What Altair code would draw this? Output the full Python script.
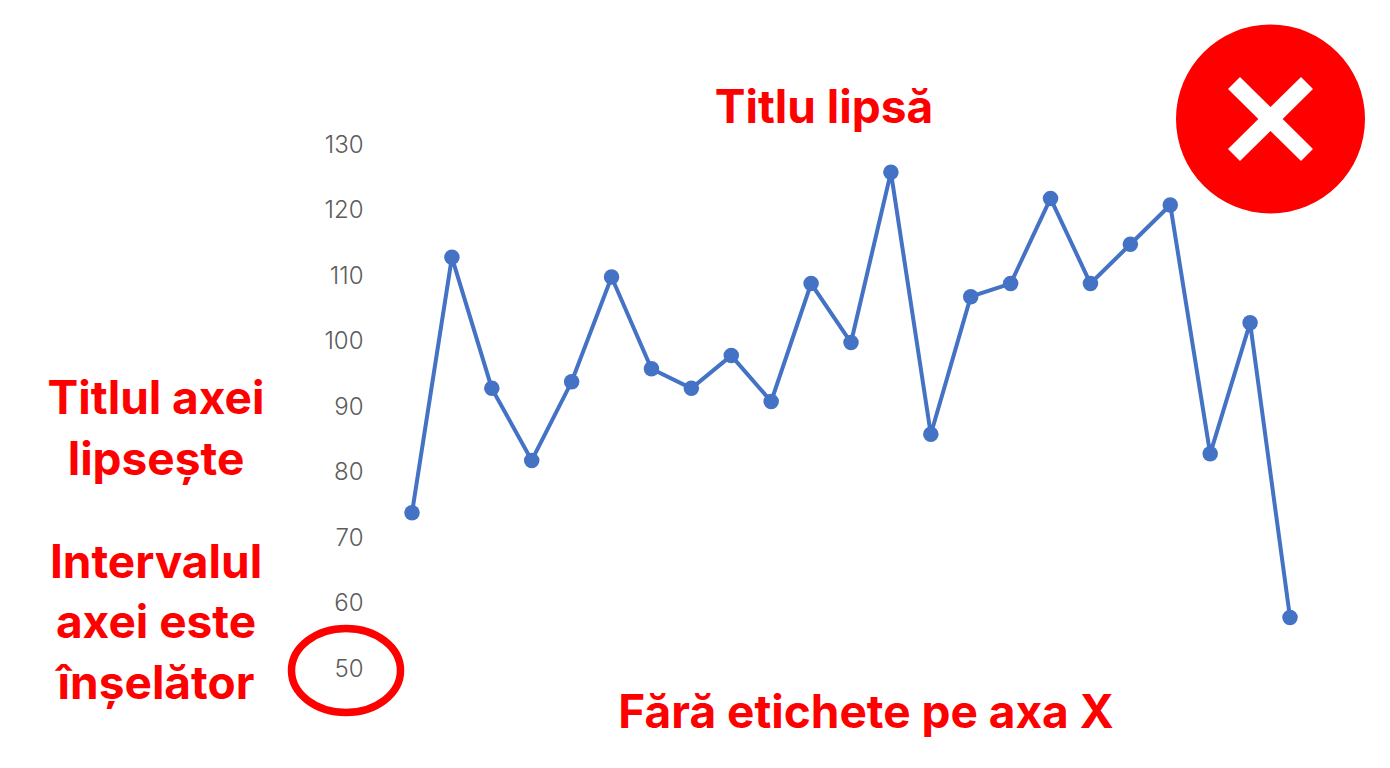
import altair as alt
import pandas as pd

values = [74, 113, 93, 82, 94, 110, 96, 93, 98, 91, 109, 100, 126, 86, 107, 109, 122, 109, 115, 121, 83, 103, 58]
y_ticks = [50, 60, 70, 80, 90, 100, 110, 120, 130]
RED = "#ff0000"
BLUE = "#4472c4"
FONT = "Inter"

df = pd.DataFrame({"i": list(range(len(values))), "v": values})
OX, OY = 412, 146   # page position of the plot origin


def px(x):
    return alt.value(x - OX)


def py(y):
    return alt.value(y - OY)


x_enc = alt.X("i:Q", scale=alt.Scale(domain=[0, len(values) - 1], nice=False, zero=False), axis=None)
y_enc = alt.Y(
    "v:Q",
    scale=alt.Scale(domain=[50, 130], nice=False, zero=False),
    axis=alt.Axis(values=y_ticks, title=None, grid=False, domain=False, ticks=False,
                  labelPadding=49, labelOffset=-1, labelFont="Inter", labelFontSize=24, labelFontWeight=300,
                  labelColor="#5c5c5c"),
)
base = alt.Chart(df).encode(x=x_enc, y=y_enc)
line = base.mark_line(color=BLUE, strokeWidth=4)
pts = base.mark_point(filled=True, color=BLUE, size=240, opacity=1)

layers = [line, pts]


def label(text, cx, baseline):
    return alt.Chart(pd.DataFrame({"t": [text]})).mark_text(
        font=FONT, fontWeight=700, fontSize=46, color=RED, align="center", baseline="alphabetic"
    ).encode(text="t:N", x=px(cx), y=py(baseline))


annotations = [
    ("Titlu lipsă", 824, 123),
    ("Titlul axei", 156, 414),
    ("lipsește", 156, 475),
    ("Intervalul", 156, 578),
    ("axei este", 156, 638),
    ("înșelător", 156, 699),
    ("Fără etichete pe axa X", 866, 728),
]
layers += [label(*a) for a in annotations]

one = pd.DataFrame({"a": [0]})
circle = alt.Chart(one).mark_point(filled=True, color=RED, size=189 ** 2, opacity=1).encode(x=px(1270.5), y=py(119))
cross1 = alt.Chart(one).mark_rule(color="white", strokeWidth=17).encode(x=px(1234), y=py(83), x2=px(1307), y2=py(155))
cross2 = alt.Chart(one).mark_rule(color="white", strokeWidth=17).encode(x=px(1307), y=py(83), x2=px(1234), y2=py(155))
ring = alt.Chart(one).mark_point(
    shape="M-1,0A1,0.77,0,1,1,1,0A1,0.77,0,1,1,-1,0Z", filled=False, color=RED,
    strokeWidth=7.5, size=109 ** 2, opacity=1
).encode(x=px(346), y=py(670.5))
layers += [circle, cross1, cross2, ring]

chart = alt.layer(*layers).properties(
    width=878, height=524,
    padding={"left": 404, "top": 138, "right": 92, "bottom": 90},
    autosize=alt.AutoSizeParams(type="none"),
    background="white",
).configure_view(stroke=None)

chart.save("out.html", embed_options={"renderer": "svg", "actions": False})
